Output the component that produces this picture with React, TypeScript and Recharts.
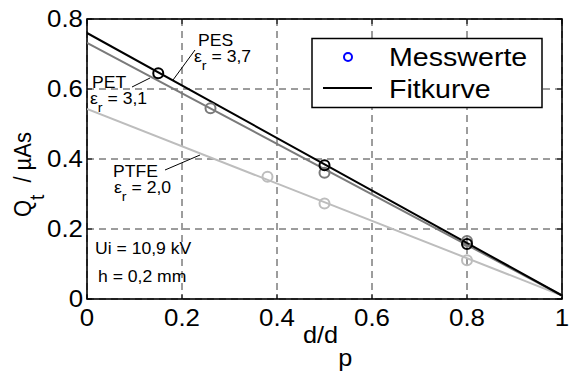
import React from "react";
import {
  ComposedChart,
  Line,
  Scatter,
  XAxis,
  YAxis,
  CartesianGrid,
  Customized,
} from "recharts";

// ---- data ----
const xTicks = [0, 0.2, 0.4, 0.6, 0.8, 1];
const yTicks = [0, 0.2, 0.4, 0.6, 0.8];
const xTickLabels = ["0", "0.2", "0.4", "0.6", "0.8", "1"];
const yTickLabels = ["0", "0.2", "0.4", "0.6", "0.8"];

// fit lines (endpoints at d/dp = 0 and 1)
const fitX = [0, 1];
const pesFit = [0.76, 0.01];
const petFit = [0.732, 0.01];
const ptfeFit = [0.543, 0.01];

// measured values
const pesX = [0.15, 0.5, 0.8];
const pesY = [0.645, 0.382, 0.157];
const petX = [0.26, 0.5, 0.8];
const petY = [0.545, 0.361, 0.166];
const ptfeX = [0.38, 0.5, 0.8];
const ptfeY = [0.349, 0.273, 0.111];

const legendLabels = ["Messwerte", "Fitkurve"];

const toPts = (xs: number[], ys: number[]) => xs.map((x, i) => ({ x, y: ys[i] }));

// ---- layout ----
const W = 570;
const H = 374;
const PL = 87;
const PT = 19;
const PR = 562;
const PB = 299;
const FONT = "'Liberation Sans', Arial, Helvetica, sans-serif";
const SX = 1.1;

const C_PES = "#000000";
const C_PET = "#7a7a7a";
const C_PTFE = "#bdbdbd";

const SText = ({ x, y, size, anchor = "start", children }: any) => (
  <g transform={`translate(${x},${y}) scale(${SX},1)`}>
    <text x={0} y={0} fontSize={size} fontFamily={FONT} fill="#000" textAnchor={anchor}>
      {children}
    </text>
  </g>
);

const YTick = (props: any) => {
  const { x, y, payload } = props;
  const i = yTicks.indexOf(payload.value);
  return <SText x={x} y={y + 8.4} size={23.5} anchor="end">{yTickLabels[i]}</SText>;
};

const XTick = (props: any) => {
  const { x, y, payload } = props;
  const i = xTicks.indexOf(payload.value);
  return <SText x={x} y={y + 26.5} size={23.5} anchor="middle">{xTickLabels[i]}</SText>;
};

const makeShape = (color: string) => (props: any) => (
  <circle cx={props.cx} cy={props.cy} r={5} fill="none" stroke={color} strokeWidth={2} />
);

const Overlay = () => {
  const pw = PR - PL;
  const ph = PB - PT;
  const tickLen = 5;
  return (
    <g>
      {/* frame */}
      <rect x={PL} y={PT} width={pw} height={ph} fill="none" stroke="#000" strokeWidth={1.6} />
      {/* inner ticks */}
      {xTicks.map((v) => {
        const x = PL + v * pw;
        return (
          <g key={"xt" + v}>
            <line x1={x} y1={PB} x2={x} y2={PB - tickLen} stroke="#000" strokeWidth={1} />
            <line x1={x} y1={PT} x2={x} y2={PT + tickLen} stroke="#000" strokeWidth={1} />
          </g>
        );
      })}
      {yTicks.map((v) => {
        const y = PB - (v / 0.8) * ph;
        return (
          <g key={"yt" + v}>
            <line x1={PL} y1={y} x2={PL + tickLen} y2={y} stroke="#000" strokeWidth={1} />
            <line x1={PR} y1={y} x2={PR - tickLen} y2={y} stroke="#000" strokeWidth={1} />
          </g>
        );
      })}

      {/* annotations */}
      <line x1={173} y1={80} x2={195} y2={50} stroke="#000" strokeWidth={1} />
      <SText x={198} y={46} size={16}>PES</SText>
      <SText x={194} y={62} size={16}>
        ε<tspan fontSize={13} dy={8}>r</tspan>
        <tspan dy={-8}> = 3,7</tspan>
      </SText>

      <line x1={132} y1={87} x2={150} y2={78} stroke="#000" strokeWidth={1} />
      <SText x={92} y={88} size={16}>PET</SText>
      <SText x={90} y={103.5} size={16}>
        ε<tspan fontSize={13} dy={8}>r</tspan>
        <tspan dy={-8}> = 3,1</tspan>
      </SText>

      <line x1={165} y1={170} x2={200} y2={155} stroke="#000" strokeWidth={1} />
      <SText x={113} y={177} size={16}>PTFE</SText>
      <SText x={114} y={193} size={16}>
        ε<tspan fontSize={13} dy={8}>r</tspan>
        <tspan dy={-8}> = 2,0</tspan>
      </SText>

      <SText x={95} y={254} size={16}>Ui = 10,9 kV</SText>
      <SText x={98} y={281.5} size={16}>h = 0,2 mm</SText>

      {/* axis labels */}
      <SText x={303} y={343} size={23}>
        d/d<tspan dy={23}>p</tspan>
      </SText>
      <g transform={`translate(31,217) scale(${SX},1) rotate(-90)`}>
        <text x={0} y={0} fontSize={22} fontFamily={FONT} fill="#000">
          Q<tspan fontSize={19} dy={12}>t</tspan>
          <tspan dy={-12} dx={12}>/ µAs</tspan>
        </text>
      </g>

      {/* legend */}
      <rect x={312} y={38.5} width={230} height={69} fill="#fff" stroke="#000" strokeWidth={1.5} />
      <circle cx={348} cy={57} r={4} fill="none" stroke="#0000ff" strokeWidth={2} />
      <SText x={389} y={65.5} size={26}>{legendLabels[0]}</SText>
      <line x1={323} y1={88} x2={372} y2={88} stroke="#000" strokeWidth={2} />
      <SText x={389} y={97.5} size={26}>{legendLabels[1]}</SText>
    </g>
  );
};

export default function App() {
  return (
    <div style={{ position: "absolute", left: 0, top: 0, width: W, height: H, background: "#fff" }}>
      <ComposedChart
        width={W}
        height={H}
        margin={{ top: PT, right: W - PR, bottom: 0, left: 0 }}
      >
        <CartesianGrid stroke="#3a3a3a" strokeDasharray="7 5" strokeWidth={1} />
        <XAxis
          type="number"
          dataKey="x"
          domain={[0, 1]}
          ticks={xTicks}
          allowDataOverflow
          height={H - PB}
          axisLine={false}
          tickLine={false}
          tickSize={0}
          tickMargin={0}
          tick={<XTick />}
          interval={0}
        />
        <YAxis
          type="number"
          dataKey="y"
          domain={[0, 0.8]}
          ticks={yTicks}
          allowDataOverflow
          width={PL}
          axisLine={false}
          tickLine={false}
          tickSize={0}
          tickMargin={4}
          tick={<YTick />}
          interval={0}
        />
        <Line data={toPts(fitX, ptfeFit)} dataKey="y" stroke={C_PTFE} strokeWidth={2} dot={false} isAnimationActive={false} />
        <Scatter data={toPts(ptfeX, ptfeY)} dataKey="y" shape={makeShape(C_PTFE)} isAnimationActive={false} />
        <Line data={toPts(fitX, petFit)} dataKey="y" stroke={C_PET} strokeWidth={2} dot={false} isAnimationActive={false} />
        <Scatter data={toPts(petX, petY)} dataKey="y" shape={makeShape(C_PET)} isAnimationActive={false} />
        <Line data={toPts(fitX, pesFit)} dataKey="y" stroke={C_PES} strokeWidth={2} dot={false} isAnimationActive={false} />
        <Scatter data={toPts(pesX, pesY)} dataKey="y" shape={makeShape(C_PES)} isAnimationActive={false} />
        <Customized component={Overlay} />
      </ComposedChart>
    </div>
  );
}
